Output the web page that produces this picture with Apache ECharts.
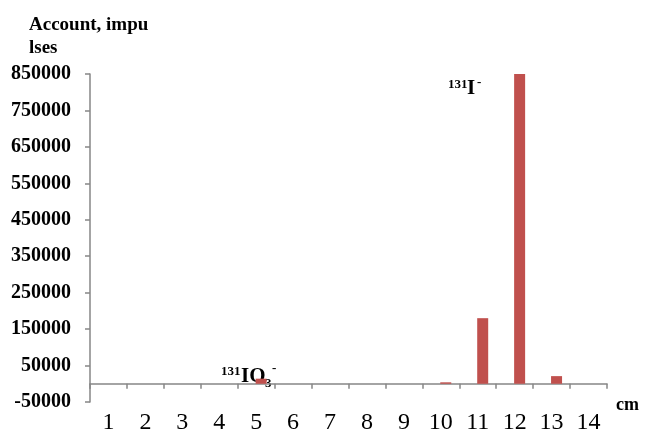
<!DOCTYPE html>
<html>
<head>
<meta charset="utf-8">
<script src="https://cdn.jsdelivr.net/npm/echarts@6/dist/echarts.min.js"></script>
<style>html,body{margin:0;padding:0;background:#fff;}#c{width:645px;height:434px;}</style>
</head>
<body>
<div id="c"></div>
<script>
var categories = ['1','2','3','4','5','6','7','8','9','10','11','12','13','14'];
var counts = [0, 0, 0, 0, 14000, 0, 0, 0, 0, 4000, 180000, 855000, 21000, 0];
var emptySeries = [null,null,null,null,null,null,null,null,null,null,null,null,null,null];
var yMin = -50000, yMax = 850000, yStep = 100000;

var serif = '"Liberation Serif", "Times New Roman", serif';
var axisGray = '#868686';
function txt(left, top, text, size, bold) {
  return {type: 'text', left: left, top: top,
    style: {text: text, font: (bold ? 'bold ' : '') + size + 'px ' + serif, fill: '#000'}};
}
var chart = echarts.init(document.getElementById('c'), null, {renderer: 'canvas'});
chart.setOption({
  animation: false,
  backgroundColor: '#fff',
  grid: {left: 90, right: 38, top: 74, bottom: 32, containLabel: false, outerBoundsMode: 'none'},
  title: {
    text: 'Account, impu\nlses',
    left: 24, top: 9,
    textStyle: {fontFamily: serif, fontWeight: 'bold', fontSize: 19, lineHeight: 23, color: '#000'}
  },
  xAxis: {
    type: 'category',
    data: categories,
    boundaryGap: true,
    axisLine: {onZero: true, lineStyle: {color: axisGray, width: 1.5}},
    axisTick: {show: true, alignWithLabel: false, length: 5, lineStyle: {color: axisGray, width: 1.5}},
    axisLabel: {margin: 9, fontFamily: serif, fontSize: 24, color: '#000', interval: 0},
    splitLine: {show: false}
  },
  yAxis: {
    type: 'value',
    min: yMin, max: yMax, interval: yStep,
    axisLine: {show: true, lineStyle: {color: axisGray, width: 1.5}},
    axisTick: {show: true, length: 5, lineStyle: {color: axisGray, width: 1.5}},
    axisLabel: {margin: 19, fontFamily: serif, fontWeight: 'bold', fontSize: 20, color: '#000',
      formatter: function (v) { return String(v); }},
    splitLine: {show: false}
  },
  series: [
    {type: 'bar', data: emptySeries, barWidth: 11, barGap: '-10%', itemStyle: {color: '#4F81BD'}},
    {type: 'bar', data: counts, barWidth: 11, barGap: '-10%', itemStyle: {color: '#C0504D'}}
  ],
  graphic: [
    txt(616, 396, 'cm', 18, true),
    txt(448, 78, '131', 13, true),
    txt(467, 78, 'I', 21, true),
    txt(477, 76, '-', 13, true),
    txt(221, 365, '131', 13, true),
    txt(241, 366, 'IO', 21, true),
    txt(265, 377, '3', 13, true),
    txt(272, 362, '-', 13, true)
  ]
});
</script>
</body>
</html>
